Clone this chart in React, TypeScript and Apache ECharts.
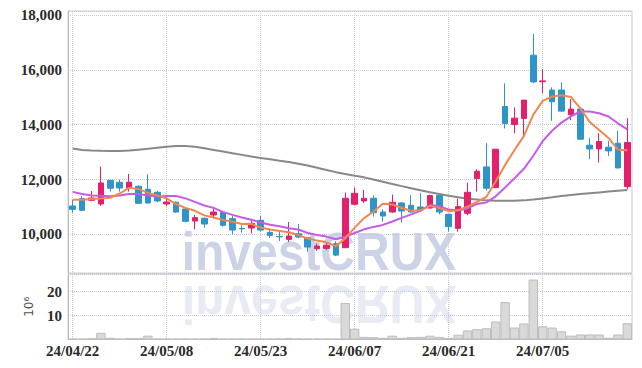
import React, { useEffect, useRef } from "react";
import * as echarts from "echarts";

const dates = [
  "24/04/22","24/04/23","24/04/24","24/04/25","24/04/26","24/04/29","24/04/30","24/05/02","24/05/03","24/05/07",
  "24/05/08","24/05/09","24/05/10","24/05/13","24/05/14","24/05/16","24/05/17","24/05/20","24/05/21","24/05/22",
  "24/05/23","24/05/24","24/05/27","24/05/28","24/05/29","24/05/30","24/05/31","24/06/03","24/06/04","24/06/05",
  "24/06/07","24/06/10","24/06/11","24/06/12","24/06/13","24/06/14","24/06/17","24/06/18","24/06/19","24/06/20",
  "24/06/21","24/06/24","24/06/25","24/06/26","24/06/27","24/06/28","24/07/01","24/07/02","24/07/03","24/07/04",
  "24/07/05","24/07/08","24/07/09","24/07/10","24/07/11","24/07/12","24/07/15","24/07/16","24/07/17","24/07/18",
];

const opens = [
  11035,11305,11243,11108,11974,11901,11693,11755,11645,11535,
  11108,11170,10925,10486,10585,10706,10804,10574,10215,10230,
  10512,10073,9925,9817,10024,9878,9477,9488,9660,9514,
  11097,11218,11316,10815,10815,11145,11060,10998,10961,11426,
  10731,10219,10768,12036,12461,11707,14667,14011,14230,16537,
  15570,15265,15265,14362,14570,13254,13118,13181,13327,11744,
];
const closes = [
  10914,10877,11327,11876,11682,11693,11901,11133,11145,11218,
  11181,10815,10475,10610,10377,10815,10329,10157,10200,10402,
  10157,9963,9910,9939,9903,9536,9572,9598,9243,11316,
  11499,11316,10793,10670,11170,10852,10815,10903,11415,10815,
  10281,11012,11535,12303,11682,13107,14047,14241,14898,15563,
  15600,14837,14497,14570,13473,13118,13389,13045,12425,13351,
];
const lows = [
  10793,10852,11207,11035,11560,11560,11560,11108,11120,11170,
  11024,10780,10440,10183,10245,10585,10281,10000,10062,10037,
  10100,9866,9756,9719,9860,9367,9404,9420,9207,9500,
  11060,11145,10647,10464,10793,10427,10790,10880,10940,10731,
  10098,10098,10695,11560,11600,11700,13864,13682,13594,15520,
  15155,14142,14470,14168,13450,12742,12621,12863,12400,11645,
];
const highs = [
  11254,11400,11583,12475,11974,12000,12205,11791,12194,11583,
  11378,11200,10960,10706,10620,10976,10852,10670,10329,10512,
  10670,10183,10110,10450,10377,9900,9660,9700,9744,11524,
  11707,11620,11426,10914,11451,11181,11426,11499,11450,11450,
  10750,11305,11890,12376,13327,13107,15508,14632,14898,17312,
  16032,15363,15546,14936,14632,13510,13692,13411,13777,14241,
];

const ma5 = [
  11260,11260,11290,11310,11335,11491,11696,11657,11511,11418,
  11316,11098,10967,10860,10692,10618,10521,10458,10376,10381,
  10249,10176,10126,10074,9974,9850,9772,9710,9570,9853,
  10246,10594,10833,11119,11090,10960,10860,10882,11031,10960,
  10846,10885,11012,11189,11363,11928,12535,13076,13595,14371,
  14870,15028,15079,15013,14595,14099,13809,13519,13090,13066,
];
const ma10 = [
  11550,11470,11420,11410,11390,11420,11470,11470,11420,11377,
  11403,11397,11312,11185,11055,10967,10810,10712,10618,10536,
  10434,10349,10292,10225,10178,10050,9974,9918,9822,9914,
  10048,10183,10272,10345,10471,10603,10727,10858,11075,11025,
  10903,10873,10947,11110,11161,11387,11710,12044,12392,12867,
  13399,13781,14078,14304,14483,14484,14419,14299,14052,13831,
];
const maLong = [
  13130,13080,13060,13050,13045,13045,13060,13090,13120,13160,
  13200,13220,13225,13200,13140,13080,13020,12960,12900,12840,
  12790,12740,12690,12640,12580,12510,12430,12350,12270,12200,
  12140,12080,12000,11920,11840,11760,11680,11610,11540,11470,
  11410,11350,11300,11270,11240,11230,11230,11230,11240,11270,
  11310,11350,11400,11440,11470,11500,11530,11560,11590,11620,
];

const volumes = [
  0.3,0.3,0.5,2.8,0.7,0.3,0.6,0.6,1.6,0.4,
  0.3,0.3,0.3,0.3,0.3,0.6,0.3,0.3,0.3,0.3,
  0.3,0.3,0.4,0.6,0.4,0.3,0.3,0.3,0.3,15.2,
  4.5,1.1,1.0,0.7,1.6,0.7,1.0,1.1,1.6,1.1,
  0.7,2.0,3.8,4.3,4.7,7.5,15.6,5.0,6.7,25.0,
  5.5,5.0,3.4,1.6,2.1,2.1,2.1,0.7,2.1,6.8,
];

const UP = "#e2206b";
const DOWN = "#2f94c7";
const LABEL_FONT = "Liberation Sans Narrow";
const WATERMARK = "investCRUX";

export default function App() {
  const ref = useRef<HTMLDivElement>(null);
  useEffect(() => {
    if (!ref.current) return;
    const chart = echarts.init(ref.current, null, { renderer: "svg" });
    const candleData = dates.map((_, i) => [opens[i], closes[i], lows[i], highs[i]]);
    const gridLine = { show: true, lineStyle: { type: "dotted", color: "#c4c8dc", width: 1 } };
    const labelStyle = {
      fontFamily: LABEL_FONT,
      fontSize: 15,
      fontWeight: "bold",
      color: "#2a2a2a",
    };
    const wmFont = "bold 48px 'Liberation Sans', Arial, sans-serif";
    chart.setOption({
      animation: false,
      backgroundColor: "#ffffff",
      graphic: [
        {
          type: "text",
          z: 0,
          x: 319,
          y: 278,
          scaleY: 1.12,
          style: {
            text: WATERMARK,
            font: wmFont,
            fill: "#cdd3e7",
            textAlign: "center",
            textVerticalAlign: "bottom",
          },
        },
        {
          type: "text",
          z: 0,
          x: 319,
          y: 278,
          scaleY: -1.12,
          style: {
            text: WATERMARK,
            font: wmFont,
            fill: "#e8ebf3",
            textAlign: "center",
            textVerticalAlign: "bottom",
          },
        },
      ],
      grid: [
        { left: 68, right: 10, top: 11, height: 262, show: true, borderColor: "#cccccc", backgroundColor: "transparent" },
        { left: 68, right: 10, top: 274, height: 65.5, show: true, borderColor: "#cccccc", backgroundColor: "transparent" },
      ],
      xAxis: [
        {
          type: "category",
          gridIndex: 0,
          data: dates,
          boundaryGap: true,
          axisLine: { show: false },
          axisTick: { show: false },
          axisLabel: { show: false },
          splitLine: { ...gridLine, interval: 9, alignWithLabel: true },
        },
        {
          type: "category",
          gridIndex: 1,
          data: dates,
          boundaryGap: true,
          axisLine: { show: true, lineStyle: { color: "#bbbbbb" } },
          axisTick: { show: false },
          axisLabel: { ...labelStyle, interval: 9, margin: 4 },
          splitLine: { ...gridLine, interval: 9, alignWithLabel: true },
        },
      ],
      yAxis: [
        {
          type: "value",
          gridIndex: 0,
          min: 8590,
          max: 18150,
          splitNumber: 5,
          axisLine: { show: true, lineStyle: { color: "#bbbbbb" } },
          axisTick: { show: false },
          axisLabel: {
            ...labelStyle,
            showMinLabel: false,
            showMaxLabel: false,
            margin: 6,
            formatter: (v: number) => (v % 2000 === 0 ? v.toLocaleString("en-US") : ""),
          },
          splitLine: gridLine,
        },
        {
          type: "value",
          gridIndex: 1,
          min: 0,
          max: 27.3,
          interval: 10,
          name: "10\u2076",
          nameLocation: "middle",
          nameRotate: 90,
          nameGap: 33,
          nameTextStyle: { fontFamily: "DejaVu Sans", fontSize: 12, color: "#555555" },
          axisLine: { show: true, lineStyle: { color: "#bbbbbb" } },
          axisTick: { show: false },
          axisLabel: { ...labelStyle, showMinLabel: false, showMaxLabel: false, margin: 6 },
          splitLine: gridLine,
        },
      ],
      series: [
        {
          type: "candlestick",
          xAxisIndex: 0,
          yAxisIndex: 0,
          data: candleData,
          barWidth: 6,
          z: 3,
          itemStyle: { color: UP, color0: DOWN, borderColor: UP, borderColor0: DOWN, borderWidth: 1 },
        },
        {
          type: "line",
          xAxisIndex: 0,
          yAxisIndex: 0,
          data: maLong,
          symbol: "none",
          z: 2,
          lineStyle: { color: "#888888", width: 2 },
        },
        {
          type: "line",
          xAxisIndex: 0,
          yAxisIndex: 0,
          data: ma10,
          symbol: "none",
          z: 4,
          lineStyle: { color: "#c75ae6", width: 2 },
        },
        {
          type: "line",
          xAxisIndex: 0,
          yAxisIndex: 0,
          data: ma5,
          symbol: "none",
          z: 4,
          lineStyle: { color: "#f0874f", width: 2 },
        },
        {
          type: "bar",
          xAxisIndex: 1,
          yAxisIndex: 1,
          data: volumes,
          barCategoryGap: "0%",
          itemStyle: { color: "#d9d9d9", borderColor: "#bdbdbd", borderWidth: 1 },
        },
      ],
    });
    return () => chart.dispose();
  }, []);
  return <div ref={ref} style={{ width: 642, height: 368, position: "absolute", left: 0, top: 0 }} />;
}
